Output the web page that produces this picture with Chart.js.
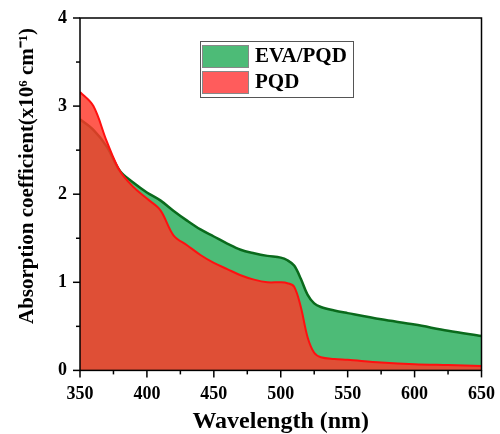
<!DOCTYPE html>
<html>
<head>
<meta charset="utf-8">
<script src="https://cdn.jsdelivr.net/npm/chart.js@4"></script>
<style>
  html, body { margin: 0; padding: 0; background: #fff; }
  #wrap { width: 500px; height: 434px; }
</style>
</head>
<body>
<div id="wrap"><canvas id="chart" width="500" height="434"></canvas></div>
<script>
// Données
const wavelengths = [350, 360, 370, 380, 390, 400, 410, 420, 430, 440, 450, 460, 470, 480, 490, 500, 505, 510, 515, 520, 525, 530, 540, 550, 575, 600, 625, 650];
const evaPqd = [2.85, 2.73, 2.54, 2.26, 2.13, 2.02, 1.93, 1.81, 1.70, 1.60, 1.52, 1.44, 1.37, 1.33, 1.30, 1.28, 1.25, 1.19, 1.04, 0.86, 0.76, 0.72, 0.68, 0.65, 0.58, 0.52, 0.45, 0.39];
const pqd = [3.16, 3.00, 2.60, 2.26, 2.08, 1.95, 1.82, 1.53, 1.42, 1.31, 1.22, 1.15, 1.08, 1.03, 1.00, 1.00, 0.99, 0.95, 0.72, 0.38, 0.20, 0.15, 0.13, 0.12, 0.09, 0.07, 0.06, 0.05];
const xTicks = [350, 400, 450, 500, 550, 600, 650];
const yTicks = [0, 1, 2, 3, 4];
const seriesNames = ['EVA/PQD', 'PQD'];
const yTitle = 'Absorption coefficient(x10⁶ cm⁻¹)';

const serif = "'Liberation Serif', 'Times New Roman', serif";

function toPoints(ys) {
    return wavelengths.map((x, i) => ({ x: x, y: ys[i] }));
}

// Cadre, graduations, titre de l'axe Y et légende
const framePlugin = {
    id: 'frame',
    afterDraw(chart) {
        const ctx = chart.ctx;
        const a = chart.chartArea;
        const xs = chart.scales.x;
        const ys = chart.scales.y;
        ctx.save();
        ctx.strokeStyle = '#000';
        ctx.lineWidth = 1.5;
        ctx.strokeRect(a.left, a.top, a.right - a.left, a.bottom - a.top);

        for (let v = 350; v <= 650; v += 25) {
            const px = xs.getPixelForValue(v);
            const len = v % 50 === 0 ? 7 : 4;
            ctx.beginPath();
            ctx.moveTo(px, a.bottom);
            ctx.lineTo(px, a.bottom + len);
            ctx.stroke();
        }
        for (let v = 0; v <= 4; v += 0.5) {
            const py = ys.getPixelForValue(v);
            const len = Number.isInteger(v) ? 7 : 4;
            ctx.beginPath();
            ctx.moveTo(a.left, py);
            ctx.lineTo(a.left - len, py);
            ctx.stroke();
        }

        // Titre Y (décalé vers le haut comme sur l'original)
        ctx.save();
        ctx.translate(28, 176);
        ctx.rotate(-Math.PI / 2);
        ctx.font = 'bold 21px ' + serif;
        ctx.fillStyle = '#000';
        ctx.textAlign = 'center';
        ctx.textBaseline = 'middle';
        ctx.fillText(yTitle, 0, 0);
        ctx.restore();

        // Légende
        const lx = 200, ly = 41, lw = 153, lh = 56;
        ctx.fillStyle = '#fff';
        ctx.fillRect(lx, ly, lw, lh);
        ctx.strokeStyle = '#555';
        ctx.lineWidth = 1;
        ctx.strokeRect(lx + 0.5, ly + 0.5, lw, lh);
        const swatches = ['#4dbb77', '#ff5c5c'];
        ctx.font = 'bold 21px ' + serif;
        ctx.textBaseline = 'middle';
        for (let i = 0; i < 2; i++) {
            const sy = ly + 4 + i * 26;
            ctx.fillStyle = swatches[i];
            ctx.fillRect(lx + 2, sy, 46, 22);
            ctx.strokeStyle = '#888';
            ctx.strokeRect(lx + 2.5, sy + 0.5, 46, 22);
            ctx.fillStyle = '#000';
            ctx.fillText(seriesNames[i], lx + 55, sy + 12);
        }
        ctx.restore();
    }
};

new Chart(document.getElementById('chart'), {
    type: 'line',
    data: {
        datasets: [{
            label: seriesNames[1],
            data: toPoints(pqd),
            borderColor: '#ff1010',
            borderWidth: 2,
            backgroundColor: 'rgba(255, 55, 40, 0.82)',
            fill: 'origin',
            pointRadius: 0,
            tension: 0.35
        }, {
            label: seriesNames[0],
            data: toPoints(evaPqd),
            borderColor: '#0a6a1c',
            borderWidth: 2.5,
            backgroundColor: '#4dbb77',
            fill: 'origin',
            pointRadius: 0,
            tension: 0.35
        }]
    },
    options: {
        responsive: false,
        animation: false,
        devicePixelRatio: 1,
        layout: { padding: { left: 53, right: 8, top: 18, bottom: 0 } },
        plugins: {
            legend: { display: false },
            tooltip: { enabled: false }
        },
        scales: {
            x: {
                type: 'linear',
                min: 350,
                max: 650,
                afterBuildTicks: (s) => { s.ticks = xTicks.map(v => ({ value: v })); },
                grid: { display: false },
                border: { display: false },
                ticks: {
                    color: '#000',
                    font: { family: serif, size: 18, weight: 'bold' },
                    padding: 5,
                    maxRotation: 0
                },
                title: {
                    display: true,
                    text: 'Wavelength (nm)',
                    color: '#000',
                    font: { family: serif, size: 24, weight: 'bold', lineHeight: 1.0 },
                    padding: 0
                }
            },
            y: {
                min: 0,
                max: 4,
                afterBuildTicks: (s) => { s.ticks = yTicks.map(v => ({ value: v })); },
                grid: { display: false },
                border: { display: false },
                ticks: {
                    color: '#000',
                    font: { family: serif, size: 18, weight: 'bold' },
                    padding: 5
                }
            }
        }
    },
    plugins: [framePlugin]
});
</script>
</body>
</html>
